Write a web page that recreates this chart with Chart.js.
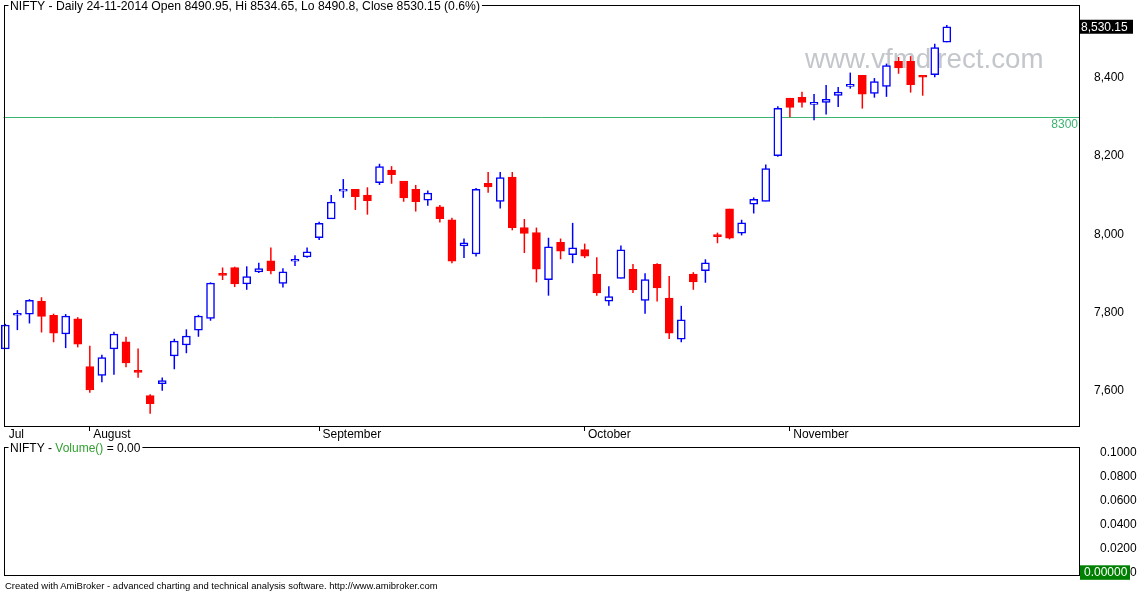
<!DOCTYPE html>
<html><head><meta charset="utf-8">
<script src="https://cdn.jsdelivr.net/npm/chart.js@4/dist/chart.umd.min.js"></script>
<style>
html,body{margin:0;padding:0;background:#fff;width:1140px;height:593px;overflow:hidden;}
#c1{position:absolute;left:0;top:0;}
#c2{position:absolute;left:0;top:440px;}
#foot{position:absolute;left:5px;top:580px;font-family:'Liberation Sans',Arial,sans-serif;font-size:9.2px;color:#000;white-space:nowrap;}
</style></head><body>
<canvas id="c1" width="1140" height="445"></canvas>
<canvas id="c2" width="1140" height="142"></canvas>
<div id="foot"></div>
<script>
const symbol = 'NIFTY';
const dates = [
 '2014-07-22','2014-07-23','2014-07-24','2014-07-25','2014-07-28','2014-07-30','2014-07-31',
 '2014-08-01','2014-08-04','2014-08-05','2014-08-06','2014-08-07','2014-08-08','2014-08-11','2014-08-12','2014-08-13','2014-08-14','2014-08-18','2014-08-19','2014-08-20','2014-08-21','2014-08-22','2014-08-25','2014-08-26','2014-08-27','2014-08-28',
 '2014-09-01','2014-09-02','2014-09-03','2014-09-04','2014-09-05','2014-09-08','2014-09-09','2014-09-10','2014-09-11','2014-09-12','2014-09-15','2014-09-16','2014-09-17','2014-09-18','2014-09-19','2014-09-22','2014-09-23','2014-09-24','2014-09-25','2014-09-26','2014-09-29','2014-09-30',
 '2014-10-01','2014-10-07','2014-10-08','2014-10-09','2014-10-10','2014-10-13','2014-10-14','2014-10-16','2014-10-17','2014-10-20','2014-10-21','2014-10-22','2014-10-27','2014-10-28','2014-10-29','2014-10-30','2014-10-31',
 '2014-11-03','2014-11-05','2014-11-07','2014-11-10','2014-11-11','2014-11-12','2014-11-13','2014-11-14','2014-11-17','2014-11-18','2014-11-19','2014-11-20','2014-11-21','2014-11-24'
];
const openP = [
 7707,7793,7796,7829,7793,7745,7784,
 7662,7639,7707,7725,7652,7588,7618,7689,7717,7755,7785,7900,7915,7873,7904,7932,7874,7931,7942,
 7991,8039,8110,8115,8100,8132,8164,8136,8115,8087,8070,8037,7970,7950,8130,8084,8146,8017,8004,7884,7979,7948,
 7961,7898,7829,7887,7910,7831,7923,7837,7732,7898,7907,7999,8065,8003,8077,8084,8201,
 8348,8350,8332,8337,8355,8378,8406,8360,8378,8442,8442,8406,8408,8490.95
];
const highP = [
 7771,7806,7834,7839,7797,7796,7788,
 7715,7692,7751,7738,7708,7591,7634,7733,7757,7794,7877,7915,7917,7918,7927,7966,7913,7946,7966,
 8032,8100,8141,8115,8120,8180,8174,8136,8126,8112,8075,8042,7989,8118,8159,8159,8159,8039,8017,7991,7989,8029,
 7976,7941,7867,7971,7924,7900,7926,7893,7817,7903,7936,8004,8065,8037,8094,8178,8327,
 8348,8364,8358,8381,8376,8413,8406,8399,8436,8453,8455,8406,8487,8534.65
];
const lowP = [
 7707,7755,7772,7749,7724,7709,7711,
 7595,7622,7641,7660,7633,7541,7600,7655,7696,7738,7779,7883,7865,7858,7901,7898,7864,7919,7940,
 7985,8039,8093,8062,8050,8126,8129,8083,8058,8073,8030,7926,7939,7943,8106,8066,8010,7952,7877,7843,7936,7926,
 7939,7843,7817,7887,7850,7797,7828,7732,7724,7858,7876,7977,7987,7997,8053,8084,8198,
 8299,8324,8291,8306,8325,8372,8321,8349,8351,8410,8362,8354,8401,8490.8
];
const closeP = [
 7768,7798,7831,7790,7747,7791,7719,
 7602,7685,7745,7671,7647,7567,7626,7727,7740,7791,7875,7895,7873,7892,7912,7906,7904,7936,7955,
 8028,8082,8115,8096,8086,8173,8152,8093,8083,8105,8040,7931,7978,8115,8121,8145,8017,8002,7911,7968,7957,7965,
 7944,7850,7841,7960,7858,7884,7863,7747,7781,7878,7927,7994,7990,8029,8089,8168,8322,
 8324,8337,8337,8345,8363,8383,8358,8390,8431,8425,8382,8401,8477,8530.15
];
const volume = [
 0,0,0,0,0,0,0,
 0,0,0,0,0,0,0,0,0,0,0,0,0,0,0,0,0,0,0,
 0,0,0,0,0,0,0,0,0,0,0,0,0,0,0,0,0,0,0,0,0,0,
 0,0,0,0,0,0,0,0,0,0,0,0,0,0,0,0,0,
 0,0,0,0,0,0,0,0,0,0,0,0,0,0
];
const monthLabels = ['Jul','August','September','October','November'];
const priceTicks = [7600,7800,8000,8200,8400];
const volumeTicks = [0,0.02,0.04,0.06,0.08,0.1];
const refLevel = 8300;
const watermark = 'www.vfmdirect.com';
const footerText = 'Created with AmiBroker - advanced charting and technical analysis software. http://www.amibroker.com';

const FONT = '"Liberation Sans", Arial, sans-serif';
const UP = '#0000ff', DOWN = '#ff0000', REF = '#3cb371', VOLG = '#33a033';

// month start indices derived from the dates
const monthStarts = [];
dates.forEach((d, i) => { if (i === 0 || d.slice(5,7) !== dates[i-1].slice(5,7)) monthStarts.push(i); });

const n = dates.length;
const last = n - 1;
const isUp = closeP.map((c, i) => c >= openP[i]);
const bodies = closeP.map((c, i) => ({x: i, y: [openP[i], c]}));
const wicks = closeP.map((c, i) => ({x: i, y: [lowP[i], highP[i]]}));
const vols = volume.map((v, i) => ({x: i, y: v}));

const X_MIN = -0.15, X_MAX = 88.95;

function paneTitle(ctx, parts, x, yc, size) {
  ctx.font = size + 'px ' + FONT;
  let w = 0; parts.forEach(p => w += ctx.measureText(p.text).width);
  ctx.fillStyle = '#fff';
  ctx.fillRect(x - 1.5, yc - 7, w + 3.5, 14);
  ctx.textBaseline = 'middle'; ctx.textAlign = 'left';
  let cx = x;
  parts.forEach(p => { ctx.fillStyle = p.color; ctx.fillText(p.text, cx, yc); cx += ctx.measureText(p.text).width; });
}
function frame(ctx, a) {
  ctx.strokeStyle = '#000'; ctx.lineWidth = 1;
  const l = Math.round(a.left) + 0.5, t = Math.round(a.top) + 0.5, r = Math.round(a.right) + 0.5, b = Math.round(a.bottom) + 0.5;
  ctx.strokeRect(l, t, r - l, b - t);
}
function noPad(ax) { ax.paddingTop = 0; ax.paddingBottom = 0; ax.paddingLeft = 0; ax.paddingRight = 0; }

const pctChg = (closeP[last] - closeP[last-1]) / closeP[last-1] * 100;
const d = dates[last].split('-');
const mainTitle = symbol + ' - Daily ' + d[2] + '-' + d[1] + '-' + d[0] +
  ' Open ' + openP[last] + ', Hi ' + highP[last] + ', Lo ' + lowP[last] + ', Close ' + closeP[last] + ' (' + pctChg.toFixed(1) + '%)';

const mainDeco = {
  id: 'mainDeco',
  beforeDatasetsDraw(chart) {
    const {ctx, chartArea: a, scales: {y}} = chart;
    ctx.save();
    ctx.font = '27.7px ' + FONT;
    ctx.fillStyle = '#c3c6cb';
    ctx.textAlign = 'left'; ctx.textBaseline = 'alphabetic';
    ctx.fillText(watermark, 805, 68);
    const py = Math.round(y.getPixelForValue(refLevel)) + 0.5;
    ctx.strokeStyle = REF; ctx.lineWidth = 1;
    ctx.beginPath(); ctx.moveTo(a.left, py); ctx.lineTo(a.right, py); ctx.stroke();
    ctx.font = '12px ' + FONT; ctx.fillStyle = REF;
    ctx.textAlign = 'right'; ctx.textBaseline = 'top';
    ctx.fillText(String(refLevel), a.right - 1, py + 1.5);
    ctx.restore();
  },
  afterDraw(chart) {
    const {ctx, chartArea: a, scales: {y}} = chart;
    ctx.save();
    frame(ctx, a);
    paneTitle(ctx, [{text: mainTitle, color: '#000'}], 10, a.top + 2.5, 12.2);
    const yc = y.getPixelForValue(closeP[last]);
    ctx.fillStyle = '#000';
    ctx.fillRect(a.right + 1, yc - 7, 53, 14);
    ctx.fillStyle = '#fff'; ctx.font = '12px ' + FONT;
    ctx.textAlign = 'left'; ctx.textBaseline = 'middle';
    ctx.fillText(closeP[last].toLocaleString('en-US', {minimumFractionDigits: 2}), a.right + 2, yc + 0.5);
    ctx.restore();
  }
};

new Chart(document.getElementById('c1'), {
  type: 'bar',
  data: {
    datasets: [
      { label: 'wick', data: wicks, backgroundColor: isUp.map(u => u ? UP : DOWN), borderWidth: 0,
        barThickness: 1.5, grouped: false, order: 2, clip: false, inflateAmount: 0 },
      { label: 'body', data: bodies, backgroundColor: isUp.map(u => u ? '#ffffff' : DOWN),
        borderColor: isUp.map(u => u ? UP : DOWN), borderWidth: 1.5, borderSkipped: false,
        barThickness: 8, grouped: false, order: 1, clip: false }
    ]
  },
  options: {
    responsive: false, animation: false,
    layout: { padding: { left: 3.5, top: 4.5, right: 0, bottom: 0 } },
    plugins: { legend: { display: false }, tooltip: { enabled: false }, title: { display: false } },
    scales: {
      x: {
        type: 'linear', min: X_MIN, max: X_MAX, offset: false,
        afterBuildTicks: ax => { ax.ticks = monthStarts.map(v => ({value: v})); },
        afterFit: ax => { ax.height = 19; noPad(ax); },
        grid: { offset: false, drawOnChartArea: false, drawTicks: true, tickLength: 5, lineWidth: 1,
                tickColor: c => c.index === 0 ? 'rgba(0,0,0,0)' : '#000' },
        border: { display: false },
        ticks: { autoSkip: false, maxRotation: 0, minRotation: 0, align: 'start', padding: -4,
                 color: '#000', font: { size: 12, family: FONT },
                 callback: (v, i) => ' ' + monthLabels[i] }
      },
      y: {
        type: 'linear', position: 'right', min: 7510, max: 8587,
        afterBuildTicks: ax => { ax.ticks = priceTicks.map(v => ({value: v})); },
        afterFit: ax => { ax.width = 61; noPad(ax); },
        grid: { display: false, drawTicks: false },
        border: { display: false },
        ticks: { padding: 15, color: '#000', font: { size: 12, family: FONT },
                 callback: v => v.toLocaleString('en-US') }
      }
    }
  },
  plugins: [mainDeco]
});

const volDeco = {
  id: 'volDeco',
  afterDraw(chart) {
    const {ctx, chartArea: a, scales: {y}} = chart;
    ctx.save();
    frame(ctx, a);
    paneTitle(ctx, [{text: symbol + ' - ', color: '#000'}, {text: 'Volume()', color: VOLG},
                    {text: ' = ' + volume[last].toFixed(2), color: '#000'}], 10, a.top + 2, 12);
    const yc = y.getPixelForValue(volume[last]);
    ctx.fillStyle = '#008000';
    ctx.fillRect(a.right + 1, yc - 7, 50, 14.5);
    ctx.fillStyle = '#fff'; ctx.font = '12px ' + FONT;
    ctx.textAlign = 'left'; ctx.textBaseline = 'middle';
    ctx.fillText(volume[last].toFixed(5), a.right + 5, yc + 0.5);
    ctx.restore();
  }
};

new Chart(document.getElementById('c2'), {
  type: 'bar',
  data: { datasets: [ { label: 'Volume', data: vols, backgroundColor: VOLG, borderWidth: 0,
                        inflateAmount: 0, barThickness: 8 } ] },
  options: {
    responsive: false, animation: false,
    layout: { padding: { left: 3.5, top: 7, right: 0, bottom: 7 } },
    plugins: { legend: { display: false }, tooltip: { enabled: false } },
    scales: {
      x: { type: 'linear', min: X_MIN, max: X_MAX, offset: false, display: false },
      y: {
        type: 'linear', position: 'right', min: -0.00225, max: 0.10442,
        afterBuildTicks: ax => { ax.ticks = volumeTicks.map(v => ({value: v})); },
        afterFit: ax => { ax.width = 61; noPad(ax); },
        grid: { display: false, drawTicks: false },
        border: { display: false },
        ticks: { padding: 21, color: '#000', font: { size: 12, family: FONT },
                 callback: v => v.toFixed(4) }
      }
    }
  },
  plugins: [volDeco]
});

// footer text, sized to the reference width
const foot = document.getElementById('foot');
foot.textContent = footerText;
const mctx = document.createElement('canvas').getContext('2d');
mctx.font = '10px ' + FONT;
foot.style.fontSize = (10 * 433 / mctx.measureText(footerText).width).toFixed(2) + 'px';
</script>
</body></html>
